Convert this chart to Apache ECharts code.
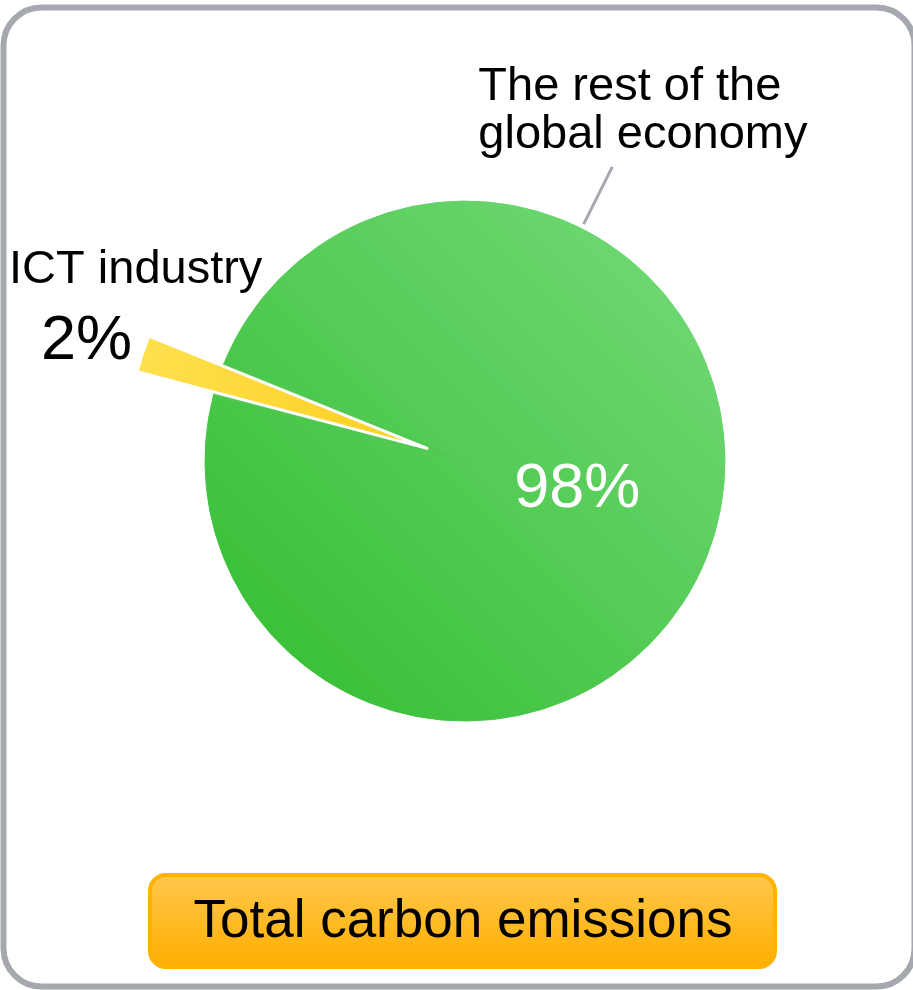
<!DOCTYPE html>
<html>
<head>
<meta charset="utf-8">
<script src="https://cdn.jsdelivr.net/npm/echarts@6/dist/echarts.min.js"></script>
<style>
html,body{margin:0;padding:0;background:#fff;}
#chart{width:913px;height:990px;}
</style>
</head>
<body>
<div id="chart"></div>
<script>
// ---- data ----
const categories = ['The rest of the global economy', 'ICT industry'];
const values = [98, 2];
const categoryLabels = ['The rest of the\nglobal economy', 'ICT industry'];
const footerText = 'Total carbon emissions';

// ---- styling ----
const FONT = '"Liberation Sans", Arial, Helvetica, sans-serif';
const center = ['50.93%', '46.57%'];
const R = 260;
const START = 158;

const greenGrad = {type:'linear', x:1, y:0, x2:0, y2:1,
  colorStops:[{offset:0,color:'#76db7b'},{offset:1,color:'#31bc2f'}]};
const yellowGrad = {type:'linear', x:0, y:0, x2:1, y2:0.4,
  colorStops:[{offset:0,color:'#ffe04f'},{offset:1,color:'#fbcf1f'}]};
const greenMid = '#52c952';

const data = categories.map((n, i) => ({name: n, value: values[i]}));

const chart = echarts.init(document.getElementById('chart'), null, {renderer:'canvas'});

const option = {
  animation: false,
  backgroundColor: '#fff',
  series: [
    {
      type: 'pie', center, radius: [0, R], startAngle: START, clockwise: true,
      silent: true, selectedMode: false, avoidLabelOverlap: false, z: 1,
      data: data.map((d, i) => ({
        ...d,
        itemStyle: i === 0
          ? {color: greenGrad, borderColor: greenGrad, borderWidth: 1}
          : {color: greenMid, borderColor: greenMid, borderWidth: 1.5},
        label: {show: i === 0}
      })),
      label: {position: 'inside', formatter: '{d}%', color: '#fff', fontSize: 63, fontFamily: FONT},
      labelLine: {show: false},
      labelLayout: {dx: -14, dy: -13}
    },
    {
      type: 'pie', center, radius: [0, 300], startAngle: START, clockwise: true,
      silent: true, selectedMode: 'single', selectedOffset: 40, avoidLabelOverlap: false, z: 3,
      data: data.map((d, i) => i === 1
        ? {...d, selected: true, itemStyle: {color: yellowGrad, borderColor: '#fff', borderWidth: 3}, label: {show: true}}
        : {...d, itemStyle: {color: 'rgba(0,0,0,0)', borderWidth: 0}, label: {show: false}}),
      label: {
        position: 'outside',
        formatter: p => '{a|' + categoryLabels[p.dataIndex] + '}\n{b|' + p.percent + '%}',
        rich: {
          a: {fontSize: 47, lineHeight: 56, fontFamily: FONT, color: '#000', align: 'left'},
          b: {fontSize: 63, lineHeight: 88, fontFamily: FONT, color: '#000', align: 'left', padding: [0, 0, 0, 32]}
        }
      },
      labelLine: {show: false, length: 0, length2: 0},
      labelLayout: {dx: 125, dy: -40}
    },
    {
      type: 'pie', center, radius: [0, R], startAngle: 239.8, clockwise: true,
      silent: true, selectedMode: false, avoidLabelOverlap: false, z: 4,
      data: data.map((d, i) => ({
        ...d,
        itemStyle: {color: 'rgba(0,0,0,0)', borderWidth: 0},
        label: {show: i === 0},
        labelLine: {show: i === 0}
      })),
      label: {position: 'outside', formatter: p => categoryLabels[p.dataIndex],
        fontSize: 47, lineHeight: 48, fontFamily: FONT, color: '#000'},
      labelLine: {show: true, length: 69, length2: 0, smooth: false,
        lineStyle: {color: '#a5a8ae', width: 3}},
      labelLayout: function (params) {
        const pts = params.labelLinePoints;
        if (!pts) return {};
        const p0 = pts[0], p1 = pts[1];
        const vx = p1[0] - p0[0], vy = p1[1] - p0[1];
        const L = Math.hypot(vx, vy) || 1;
        const s = [p0[0] + vx / L * 5, p0[1] + vy / L * 5];
        return {x: p1[0] - 134, y: p1[1] - 8, align: 'left', verticalAlign: 'bottom',
          labelLinePoints: [s, [p1[0], p1[1]], [p1[0], p1[1]]]};
      }
    }
  ],
  graphic: [
    {type: 'rect', silent: true, z: 0,
      shape: {x: 3.5, y: 7.5, width: 911, height: 979, r: 38},
      style: {fill: 'none', stroke: '#a5a8ae', lineWidth: 6}},
    {type: 'rect', silent: true, z: 10,
      shape: {x: 150, y: 875, width: 625, height: 92, r: 16},
      style: {fill: {type: 'linear', x: 0, y: 0, x2: 0, y2: 1,
        colorStops: [{offset: 0, color: '#ffc84c'}, {offset: 1, color: '#ffad00'}]},
        stroke: '#ffb200', lineWidth: 4}},
    {type: 'text', silent: true, z: 11,
      style: {text: footerText, x: 463, y: 922, font: '53px ' + FONT, fill: '#000',
        textAlign: 'center', textVerticalAlign: 'middle', align: 'center', verticalAlign: 'middle'}}
  ]
};
chart.setOption(option);
</script>
</body>
</html>
